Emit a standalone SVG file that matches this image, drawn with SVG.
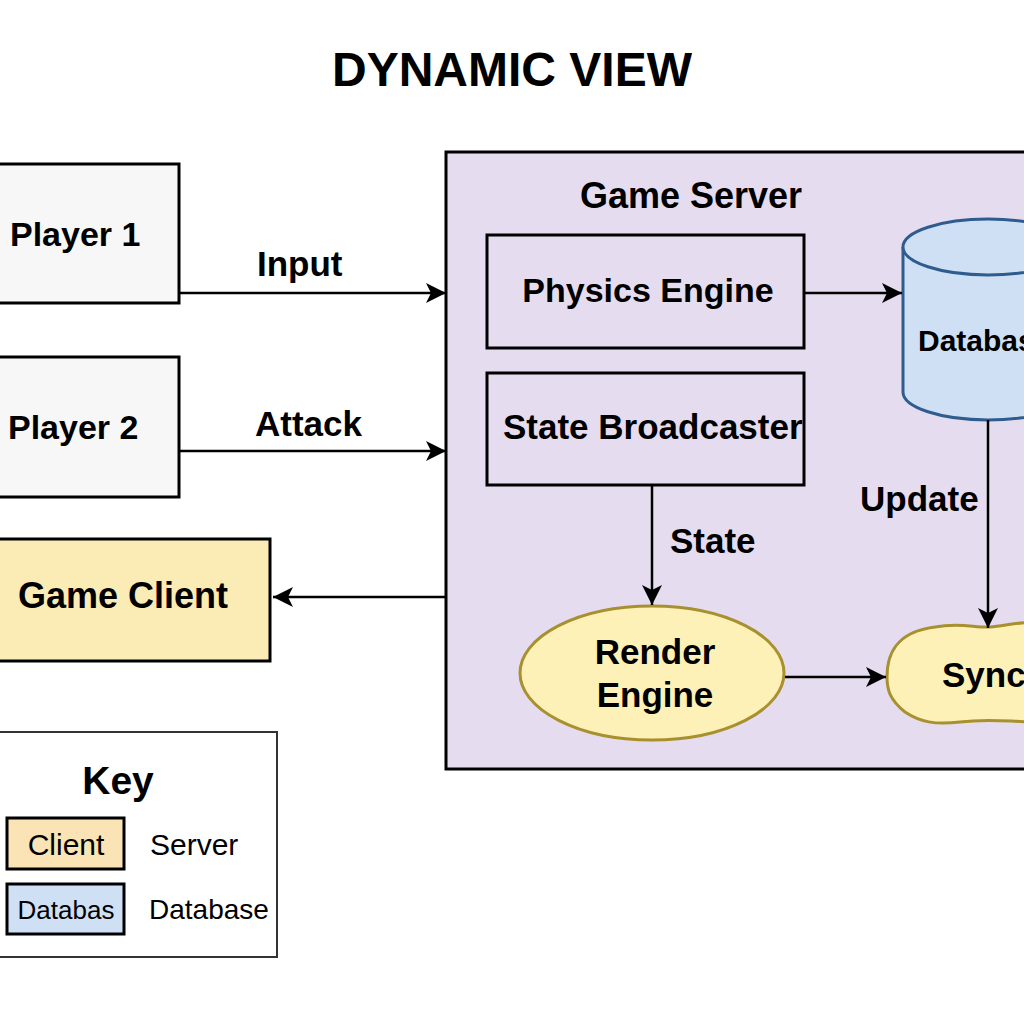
<svg xmlns="http://www.w3.org/2000/svg" width="1024" height="1024" viewBox="0 0 1024 1024">
<defs>
<marker id="arr" markerUnits="userSpaceOnUse" markerWidth="22" markerHeight="20" refX="20" refY="10" orient="auto">
<path d="M0,0 L20,10 L0,20 L5,10 Z" fill="#000"/>
</marker>
<style>
text{font-family:"Liberation Sans",Arial,sans-serif;font-weight:bold;fill:#000}
.box{stroke:#000;stroke-width:3}
.edge{stroke:#000;stroke-width:2.5;fill:none;marker-end:url(#arr)}
.lbl{font-size:35px}
.plain{font-weight:normal}
</style>
</defs>
<rect width="1024" height="1024" fill="#fff"/>
<text x="512" y="86" font-size="48" text-anchor="middle">DYNAMIC VIEW</text>

<g id="game-server">
<rect class="box" x="446" y="152" width="620" height="617" fill="#e5dcef"/>
<text x="691" y="208" font-size="36" text-anchor="middle">Game Server</text>
</g>
<g id="physics-engine">
<rect class="box" x="487" y="235" width="317" height="113" fill="#e5dcef"/>
<text x="648" y="302" font-size="34" text-anchor="middle">Physics Engine</text>
</g>
<g id="state-broadcaster">
<rect class="box" x="487" y="373" width="317" height="112" fill="#e5dcef"/>
<text x="503" y="439" font-size="35">State Broadcaster</text>
</g>
<g id="database">
<path d="M903,247 L903,392 A85,28 0 0 0 1073,392 L1073,247" fill="#cfe0f5" stroke="#2f5c8f" stroke-width="3"/>
<ellipse cx="988" cy="247" rx="85" ry="28" fill="#cfe0f5" stroke="#2f5c8f" stroke-width="3"/>
<text x="918" y="351" font-size="30">Database</text>
</g>
<g id="render-engine">
<ellipse cx="652" cy="673" rx="132" ry="67" fill="#fdf1b8" stroke="#a8902e" stroke-width="3"/>
<text x="655" y="664" font-size="35" text-anchor="middle">Render</text>
<text x="655" y="707" font-size="35" text-anchor="middle">Engine</text>
</g>
<g id="sync">
<path d="M935,627 C960,622 975,628 990,627 C1005,626 1015,622 1040,622 L1040,722 C1010,722 990,718 960,722 C935,725 920,722 905,712 C890,700 887,690 887,677 C887,655 895,632 935,627 Z" fill="#fdf1b8" stroke="#a8902e" stroke-width="3"/>
<text x="942" y="687" font-size="35">Sync</text>
</g>
<g id="player-1">
<rect class="box" x="-5" y="164" width="184" height="139" fill="#f7f7f7"/>
<text x="10" y="246" font-size="34">Player 1</text>
</g>
<g id="player-2">
<rect class="box" x="-5" y="357" width="184" height="140" fill="#f7f7f7"/>
<text x="8" y="439" font-size="34">Player 2</text>
</g>
<g id="game-client">
<rect class="box" x="-5" y="539" width="275" height="122" fill="#fbebb5"/>
<text x="18" y="608" font-size="36">Game Client</text>
</g>
<g id="key">
<rect x="-5" y="732" width="282" height="225" fill="#fff" stroke="#333" stroke-width="2"/>
<text x="118" y="794" font-size="39" text-anchor="middle">Key</text>
<rect class="box" x="7" y="818" width="117" height="51" fill="#fae3b4"/>
<text class="plain" x="66" y="855" font-size="30" text-anchor="middle">Client</text>
<text class="plain" x="150" y="855" font-size="30">Server</text>
<rect class="box" x="7" y="884" width="117" height="50" fill="#cfe0f5"/>
<text class="plain" x="66" y="919" font-size="26" text-anchor="middle">Databas</text>
<text class="plain" x="149" y="919" font-size="28">Database</text>
</g>

<g id="connectors">
<line class="edge" x1="179" y1="293" x2="446" y2="293"/>
<text class="lbl" x="257" y="276">Input</text>
<line class="edge" x1="179" y1="451" x2="446" y2="451"/>
<text class="lbl" x="255" y="436">Attack</text>
<line class="edge" x1="446" y1="597" x2="273" y2="597"/>
<line class="edge" x1="804" y1="293" x2="902" y2="293"/>
<line class="edge" x1="652" y1="485" x2="652" y2="605"/>
<text class="lbl" x="670" y="553">State</text>
<line class="edge" x1="988" y1="420" x2="988" y2="628"/>
<text class="lbl" x="860" y="511">Update</text>
<line class="edge" x1="785" y1="677" x2="886" y2="677"/>
</g>
</svg>
